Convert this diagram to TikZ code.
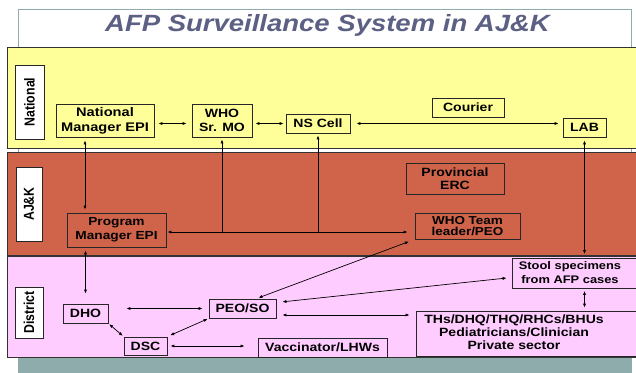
\documentclass[tikz,border=0pt]{standalone}
\usepackage{fontspec}
\setmainfont{Liberation Sans}[FakeStretch=1.17]
\newfontfamily\sidefont{Liberation Sans}[FakeStretch=0.855]
\usetikzlibrary{arrows.meta}

\definecolor{bandyellow}{RGB}{255,255,153}
\definecolor{bandred}{RGB}{208,100,75}
\definecolor{bandpink}{RGB}{255,204,255}
\definecolor{slideteal}{RGB}{142,172,172}
\definecolor{titleblue}{RGB}{92,96,132}

\tikzset{
	box/.style={draw=black!85, line width=0.9pt, inner sep=1pt, align=center, font=\bfseries\fontsize{12}{14}\selectfont},
	bandlabel/.style={draw=black!85, fill=white, line width=0.9pt, inner sep=1pt, rotate=90, font=\sidefont\bfseries\fontsize{14.4}{16}\selectfont},
	band/.style={draw=black!80, line width=0.9pt},
	link/.style={<->, line width=0.7pt, >={Latex[length=4pt,width=3.2pt]}},
}

\begin{document}
\begin{tikzpicture}[x=1pt, y=-1pt]
		\useasboundingbox (0,0) rectangle (636,372);
		\draw[draw=slideteal, fill=white, line width=0.8pt] (18,9) rectangle (631,380);
		\fill[slideteal] (18,357) rectangle (631,380);
		
		\node (title) [anchor=base, text=titleblue, font=\bfseries\itshape\fontsize{23.5}{26}\selectfont] at (327.5,31) {AFP Surveillance System in AJ\&K};
		
		\draw[band, fill=bandyellow] (7,47) rectangle (645,148);
		\draw[band, fill=bandred] (7,152) rectangle (645,255);
		\draw[band, fill=bandpink] (7,256) rectangle (645,357);
		
		\node (natl) [bandlabel, minimum width=74pt, minimum height=29pt] at (29.5,102) {National};
		\node (ajk) [bandlabel, minimum width=74pt, minimum height=26pt] at (29,204) {AJ\&K};
		\node (dist) [bandlabel, minimum width=51pt, minimum height=28pt] at (29,312.5) {District};
		
		\node (nme) [box, minimum width=98pt, minimum height=33pt, font=\bfseries\fontsize{12.5}{15}\selectfont] at (105,120.5) {National\\Manager EPI};
		\node (whomo) [box, minimum width=60pt, minimum height=33pt] at (222,120.5) {WHO\\Sr. MO};
		\node (ns) [box, minimum width=64pt, minimum height=19pt] at (318,123.5) {NS Cell};
		\node (courier) [box, minimum width=72pt, minimum height=19pt] at (468,107.5) {Courier};
		\node (lab) [box, minimum width=43pt, minimum height=19pt] at (584.5,127.5) {LAB};
		
		\node (erc) [box, minimum width=98pt, minimum height=31pt, font=\bfseries\fontsize{12}{13}\selectfont] at (455,178.5) {Provincial\\ERC};
		\node (whotl) [box, minimum width=105pt, minimum height=26pt, font=\bfseries\fontsize{11.5}{11}\selectfont] at (467.5,226) {WHO Team\\leader/PEO};
		\node (pm) [box, minimum width=99pt, minimum height=34pt, font=\bfseries\fontsize{11.7}{14}\selectfont] at (116.5,230) {Program\\Manager EPI};
		
		\node (stool) [box, minimum width=128pt, minimum height=29pt, font=\bfseries\fontsize{11}{14}\selectfont] at (576,273.5) {\begin{tabular}{@{}c@{}}Stool specimens\\from AFP cases\end{tabular}\hspace*{12pt}};
		\node (dho) [box, minimum width=45pt, minimum height=19pt] at (85.5,313.5) {DHO};
		\node (peo) [box, minimum width=67pt, minimum height=19pt] at (242.5,308.5) {PEO/SO};
		\node (dsc) [box, minimum width=43pt, minimum height=18pt] at (145.5,346) {DSC};
		\node (vacc) [box, minimum width=129pt, minimum height=19pt] at (322.5,347.5) {Vaccinator/LHWs};
		\node (ths) [box, minimum width=224pt, minimum height=45pt, font=\bfseries\fontsize{12}{13}\selectfont] at (528,333.5) {\begin{tabular}{@{}c@{}}THs/DHQ/THQ/RHCs/BHUs\\Pediatricians/Clinician\\Private sector\end{tabular}\hspace*{28pt}};
		
		\draw[link, shorten <=4pt, shorten >=5pt] (nme.east |- ns.center) -- (whomo.west |- ns.center);
		\draw[link, shorten <=3pt, shorten >=2pt] (whomo.east |- ns.center) -- (ns.west);
		\draw[link, shorten <=6pt, shorten >=4pt] (ns.east) -- (lab.west |- ns.center);
		\draw[link, shorten <=3pt, shorten >=3pt] ([xshift=-20pt]nme.south) -- ([xshift=-20pt]nme.south |- pm.north);
		
		\coordinate (jn) at ([yshift=-2pt]pm.east);
		\draw[link, shorten <=1pt, shorten >=7pt] (jn) -- (whotl.west |- jn);
		\draw[link, <-, shorten <=2pt] (whomo.south) -- (whomo.south |- jn);
		\draw[link, <-, shorten <=2pt] (ns.south) -- (ns.south |- jn);
		\draw[link, shorten <=3pt, shorten >=4pt] (lab.south) -- (lab.south |- stool.north);
		
		\coordinate (pt) at ([yshift=-6.5pt]peo.east);
		\draw[link, shorten <=3pt, shorten >=10pt] (dho.north |- pm.south) -- (dho.north);
		\draw[link, shorten <=18pt, shorten >=6pt] (dho.east |- peo.west) -- (peo.west);
		\draw[link, shorten <=6pt, shorten >=6pt] (pt) -- (ths.west |- pt);
		\draw[link, shorten <=6pt, shorten >=5pt] ([yshift=6pt]peo.east) -- ([yshift=-4pt]stool.west);
		\draw[link, shorten <=2pt, shorten >=6pt] ([xshift=14pt]peo.north) -- (whotl.south west);
		\draw[link, shorten <=1pt, shorten >=1pt] (dho.south east) -- (dsc.north west);
		\draw[link, shorten <=3pt, shorten >=1pt] (dsc.north east) -- (peo.south west);
		\draw[link, shorten <=3pt, shorten >=13pt] (dsc.east) -- (vacc.west |- dsc.east);
		\draw[link, shorten <=2pt, shorten >=3pt] (lab.south |- stool.south) -- (lab.south |- ths.north);
	\end{tikzpicture}
\end{document}
